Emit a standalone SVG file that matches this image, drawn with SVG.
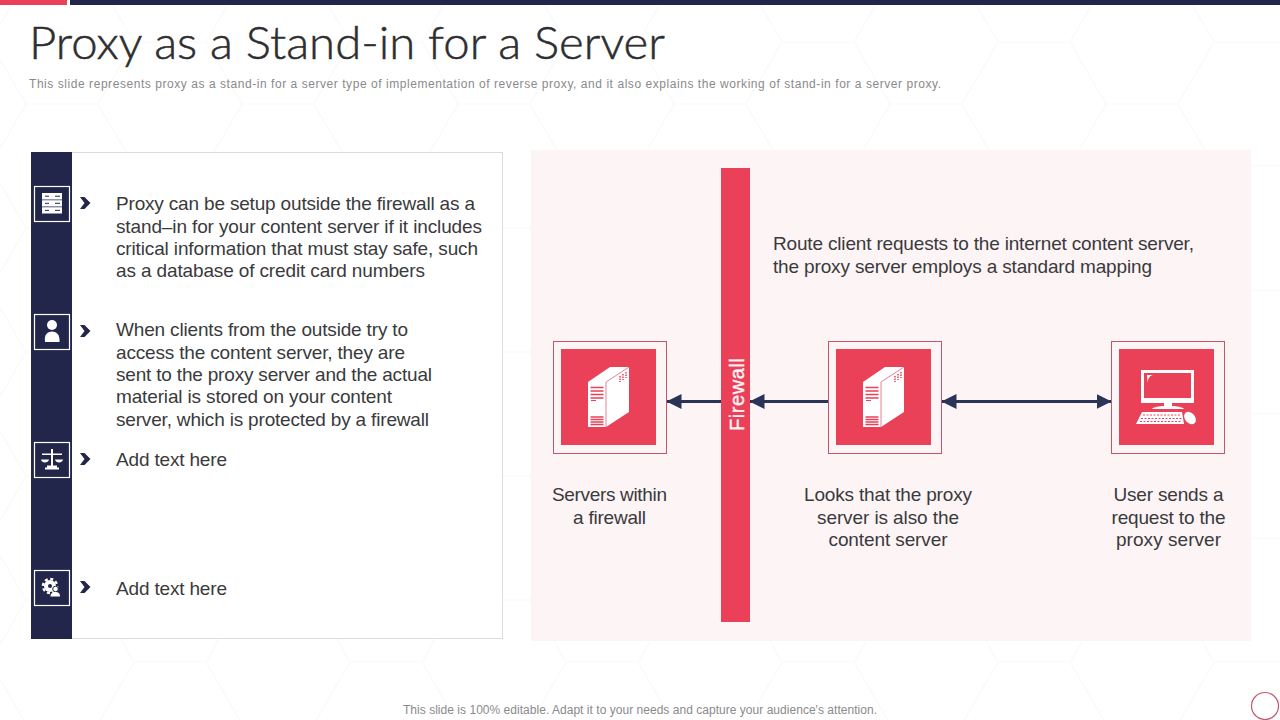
<svg xmlns="http://www.w3.org/2000/svg" width="1280" height="720" viewBox="0 0 1280 720">
<style>
text{font-family:"Liberation Sans",Arial,sans-serif}
.b{font-size:19px;fill:#3a3a3c}
.sub{font-size:12px;fill:#8a8a8c}
.t{font-family:"Lato","Liberation Sans",sans-serif;font-weight:300;font-size:46px;fill:#2e2e30;stroke:#2e2e30;stroke-width:.5}
.ctr{text-anchor:middle}
.frame{fill:none;stroke:#c2566c;stroke-width:1}
.red{fill:#ea4058}
.navy{fill:#22264a}
.ibox{fill:none;stroke:#fff;stroke-width:1.2}
.w{fill:#fff}
.ln{stroke:#2a3358;stroke-width:3;fill:none}
.chev{fill:#22264a}
</style>
<defs>
<pattern id="hex" width="216" height="124" patternUnits="userSpaceOnUse" x="-10" y="-20">
<path d="M0 62 L36 0 H108 L144 62 L108 124 H36 Z M144 62 H216" fill="none" stroke="#f9f9fa" stroke-width="1.2"/>
</pattern>
<marker id="ah" markerWidth="15" markerHeight="15" refX="14.500" refY="7.500" orient="auto-start-reverse" markerUnits="userSpaceOnUse"><path d="M0 0 L15 7.500 L0 15 Z" fill="#2a3358"/></marker>
<g id="tower">
<path class="w" d="M-24 -14 L-2 -29 L17 -29 L17 16 L-6 31 L-24 31 Z"/>
<path d="M-6 -14 V31 M-6 -14 L17 -29" stroke="#e7607a" stroke-width="0.8" fill="none"/>
<path d="M-21.500 -8.500H-8.500M-21.500 -5H-8.500M-21.500 -1.500H-8.500M-21.500 2H-8.500M-21.500 21H-8.500M-21.500 23.500H-8.500M-21.500 26H-8.500M-21.500 28.500H-8.500" stroke="#ea4058" stroke-width="1.500"/>
<path d="M-21 4.500H-16" stroke="#ea4058" stroke-width="1"/>
<path d="M8 -20V-14M11 -22V-16M14 -24V-18" stroke="#ea4058" stroke-width="1.500" stroke-dasharray="1.500 1"/>
</g>
</defs>
<rect width="1280" height="720" fill="#fff"/>
<rect width="1280" height="720" fill="url(#hex)"/>
<rect x="0" y="0" width="67" height="5" fill="#ea4058"/>
<rect x="70" y="0" width="1210" height="5" fill="#22264a"/>
<text class="t" x="29" y="59" textLength="636" lengthAdjust="spacingAndGlyphs">Proxy as a Stand-in for a Server</text>
<text class="sub" x="29" y="88" textLength="912" lengthAdjust="spacing">This slide represents proxy as a stand-in for a server type of implementation of reverse proxy, and it also explains the working of stand-in for a server proxy.</text>

<g id="left-panel">
<rect x="31.500" y="152.500" width="471" height="486" fill="#fff" fill-opacity=".7" stroke="#dcdcde"/>
<rect class="navy" x="31" y="152" width="41" height="487"/>
</g>
<g id="item-1">
<rect class="ibox" x="34.500" y="186.500" width="35" height="35"/>
<path class="w" d="M42 193H62V199.400H42ZM42 200.300H62V206.400H42ZM42 207.300H62V213.500H42Z"/>
<path d="M45 196.200H49M55 196.200H60M45 203.300H49M55 203.300H60M45 210.400H49M55 210.400H60" stroke="#22264a" stroke-width="1"/>
<path class="chev" d="M80 197H84.500L90.500 203L84.500 209H80L84.500 203Z"/>
<text class="b" x="116" y="210" textLength="359">Proxy can be setup outside the firewall as a</text>
<text class="b" x="116" y="233" textLength="366">stand–in for your content server if it includes</text>
<text class="b" x="116" y="255" textLength="362">critical information that must stay safe, such</text>
<text class="b" x="116" y="277" textLength="309">as a database of credit card numbers</text>
</g>
<g id="item-2">
<rect class="ibox" x="34.500" y="314.500" width="35" height="35"/>
<circle class="w" cx="52" cy="325" r="5"/>
<path class="w" d="M45 342 C44 335 47 331.500 52 331.500 C57 331.500 60 335 59.500 342 Z"/>
<path class="chev" d="M80 325H84.500L90.500 331L84.500 337H80L84.500 331Z"/>
<text class="b" x="116" y="336" textLength="292">When clients from the outside try to</text>
<text class="b" x="116" y="359" textLength="289">access the content server, they are</text>
<text class="b" x="116" y="381" textLength="316">sent to the proxy server and the actual</text>
<text class="b" x="116" y="403" textLength="276">material is stored on your content</text>
<text class="b" x="116" y="426" textLength="313">server, which is protected by a firewall</text>
</g>
<g id="item-3">
<rect class="ibox" x="34.500" y="442.500" width="35" height="35"/>
<path class="w" d="M51 449H53V466H51ZM42 453.500H62V455H42ZM47 465.500H57V467.500H47ZM45 467.500H59V469.500H45Z"/>
<path class="w" d="M41 459.500H49C48.500 463.500 41.500 463.500 41 459.500ZM55 459.500H63C62.500 463.500 55.500 463.500 55 459.500Z"/>
<path class="chev" d="M80 453H84.500L90.500 459L84.500 465H80L84.500 459Z"/>
<text class="b" x="116" y="466" textLength="111">Add text here</text>
</g>
<g id="item-4">
<rect class="ibox" x="34.500" y="570.500" width="35" height="35"/>
<circle class="w" cx="50" cy="586" r="6"/>
<circle cx="50" cy="586" r="7" fill="none" stroke="#fff" stroke-width="2.500" stroke-dasharray="3 2.500"/>
<circle class="navy" cx="50" cy="586" r="2"/>
<circle class="w" cx="55.500" cy="589" r="2.800" stroke="#22264a"/>
<path class="w" d="M50.500 596.500 C50.500 593 53 592 55.500 592 C58 592 60 593 60 596.500Z"/>
<path class="chev" d="M80 581H84.500L90.500 587L84.500 593H80L84.500 587Z"/>
<text class="b" x="116" y="595" textLength="111">Add text here</text>
</g>

<g id="diagram-bg"><rect x="531" y="150" width="720" height="491" fill="#fdf4f6"/></g>
<g id="firewall">
<rect class="red" x="721" y="168" width="29" height="454"/>
<text x="0" y="0" transform="translate(744 431) rotate(-90)" font-size="20" fill="#fdf3f5" stroke="#fdf3f5" stroke-width=".4" textLength="73">Firewall</text>
</g>
<g id="route-note">
<text class="b" x="773" y="250" textLength="421">Route client requests to the internet content server,</text>
<text class="b" x="773" y="273" textLength="379">the proxy server employs a standard mapping</text>
</g>
<g id="connectors">
<path class="ln" d="M721 401.500H667" marker-end="url(#ah)"/>
<path class="ln" d="M828 401.500H750" marker-end="url(#ah)"/>
<path class="ln" d="M942 401.500H1111" marker-start="url(#ah)" marker-end="url(#ah)"/>
</g>
<g id="node-servers">
<rect class="frame" x="553.500" y="341.500" width="113" height="112"/>
<rect class="red" x="561" y="349" width="95" height="96"/>
<use href="#tower" x="612" y="396"/>
<text class="b ctr" x="609.500" y="501" textLength="115">Servers within</text>
<text class="b ctr" x="609.500" y="524" textLength="73">a firewall</text>
</g>
<g id="node-proxy">
<rect class="frame" x="828.500" y="341.500" width="113" height="112"/>
<rect class="red" x="836" y="349" width="95" height="96"/>
<use href="#tower" x="887" y="396"/>
<text class="b ctr" x="888" y="501" textLength="168">Looks that the proxy</text>
<text class="b ctr" x="888" y="524" textLength="142">server is also the</text>
<text class="b ctr" x="888" y="546" textLength="119">content server</text>
</g>
<g id="node-user">
<rect class="frame" x="1111.500" y="341.500" width="113" height="112"/>
<rect class="red" x="1119" y="349" width="95" height="96"/>
<path class="w" fill-rule="evenodd" d="M1141 370H1194V403H1172V406C1176 406 1183 407 1184 409H1152C1153 407 1160 406 1164 406V403H1141ZM1144 373V398H1191V373Z"/>
<path class="w" d="M1147 375H1153C1149 376 1148 379 1147.500 383Z"/>
<path class="w" d="M1142 412H1182L1184 424H1136Z"/>
<path d="M1143 415H1181M1141 418.500H1182M1140 421.500H1182" stroke="#ea4058" stroke-width="1" stroke-dasharray="2 1.500"/>
<ellipse class="w" cx="1190" cy="418" rx="5" ry="7" transform="rotate(-40 1190 418)"/>
<text class="b ctr" x="1168.500" y="501" textLength="110">User sends a</text>
<text class="b ctr" x="1168.500" y="524" textLength="114">request to the</text>
<text class="b ctr" x="1168.500" y="546" textLength="105">proxy server</text>
</g>
<text x="403" y="714" font-size="12" fill="#8a8a8c" textLength="474">This slide is 100% editable. Adapt it to your needs and capture your audience's attention.</text>
<circle cx="1265" cy="706" r="13.500" fill="#fff" stroke="#c2566c" stroke-width="1.200"/>
</svg>
